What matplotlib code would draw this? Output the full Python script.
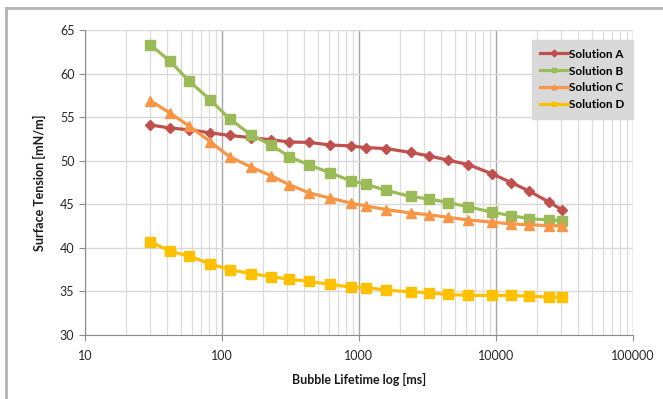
import matplotlib
matplotlib.use("Agg")
import matplotlib.pyplot as plt
from matplotlib.lines import Line2D
from matplotlib.ticker import LogLocator, FixedLocator, FuncFormatter

plt.rcParams["font.family"] = ["Lato", "DejaVu Sans"]

# bubble lifetime [ms]
lifetime = [30, 42, 58, 82, 114, 162, 230, 310, 435, 620, 870, 1125,
            1575, 2380, 3260, 4500, 6300, 9350, 12900, 17500, 24400, 30500]

sol_a = [54.1, 53.75, 53.55, 53.2, 52.9, 52.65, 52.4, 52.15, 52.1, 51.8, 51.7, 51.5,
         51.4, 50.95, 50.55, 50.05, 49.55, 48.5, 47.5, 46.5, 45.25, 44.35]
sol_b = [63.3, 61.4, 59.1, 57.0, 54.8, 53.0, 51.8, 50.45, 49.5, 48.6, 47.7, 47.3,
         46.6, 45.9, 45.6, 45.2, 44.7, 44.1, 43.7, 43.35, 43.2, 43.1]
sol_c = [56.9, 55.45, 53.95, 52.2, 50.45, 49.3, 48.25, 47.25, 46.3, 45.7, 45.15, 44.8,
         44.4, 44.0, 43.8, 43.5, 43.2, 42.95, 42.75, 42.65, 42.55, 42.5]
sol_d = [40.7, 39.6, 39.05, 38.15, 37.5, 37.05, 36.7, 36.4, 36.15, 35.8, 35.5, 35.45,
         35.15, 34.95, 34.85, 34.65, 34.55, 34.55, 34.55, 34.45, 34.35, 34.35]

series = [
    ("Solution A", sol_a, "#c0504d", "D", 5.5),
    ("Solution B", sol_b, "#9bbb59", "s", 6.5),
    ("Solution C", sol_c, "#f79646", "^", 7.5),
    ("Solution D", sol_d, "#ffc000", "s", 6.5),
]

fig = plt.figure(figsize=(6.63, 3.99), dpi=100)
ax = fig.add_axes([0.128, 0.1604, 0.8268, 0.7644])

# frame lines around the chart (left and top visible)
fig.add_artist(Line2D([0.009, 0.009], [0, 0.98], transform=fig.transFigure,
                      color="#b4b4b4", lw=2))
fig.add_artist(Line2D([0.009, 1.0], [0.98, 0.98], transform=fig.transFigure,
                      color="#b4b4b4", lw=2))

for name, vals, col, mk, ms in series:
    ax.plot(lifetime, vals, color=col, marker=mk, markersize=ms, lw=2.3,
            label=name, markeredgecolor=col)

ax.set_xscale("log")
ax.set_xlim(10, 100000)
ax.set_ylim(30, 65)
ax.yaxis.set_major_locator(FixedLocator(range(30, 66, 5)))
ax.xaxis.set_major_locator(LogLocator(base=10, numticks=10))
ax.xaxis.set_minor_locator(LogLocator(base=10, subs=range(2, 10), numticks=20))
ax.xaxis.set_major_formatter(FuncFormatter(lambda v, p: f"{v:.0f}"))

ax.grid(True, which="major", axis="x", color="#a6a6a6", lw=1)
ax.grid(True, which="minor", axis="x", color="#dcdcdc", lw=0.9)
ax.grid(True, which="major", axis="y", color="#d9d9d9", lw=1)
ax.set_axisbelow(True)

for s in ["top", "right"]:
    ax.spines[s].set_visible(False)
for s in ["left", "bottom"]:
    ax.spines[s].set_color("#8c8c8c")

ax.tick_params(axis="both", which="major", labelsize=9, colors="#8c8c8c",
               labelcolor="#262626", length=4, width=0.8)
ax.tick_params(axis="x", which="minor", length=0)
ax.tick_params(axis="x", pad=7)

ax.set_xlabel("Bubble Lifetime log [ms]", fontsize=9, fontweight="bold",
              color="#1a1a1a", labelpad=8)
ax.set_ylabel("Surface Tension [mN/m]", fontsize=9, fontweight="bold",
              color="#1a1a1a", labelpad=10)

leg = ax.legend(loc="upper right", bbox_to_anchor=(1.0, 0.968), fontsize=8.5,
                frameon=True, fancybox=False, borderpad=0.75, labelspacing=0.5,
                handlelength=2.3, handletextpad=0.1, borderaxespad=0)
leg.get_frame().set_facecolor("#d9d9d9")
leg.get_frame().set_edgecolor("#d9d9d9")
leg.get_frame().set_alpha(1)
for t in leg.get_texts():
    t.set_fontweight("bold")
for h in leg.get_lines():
    h.set_markersize(3.5)

fig.savefig("out.png", dpi=100)
